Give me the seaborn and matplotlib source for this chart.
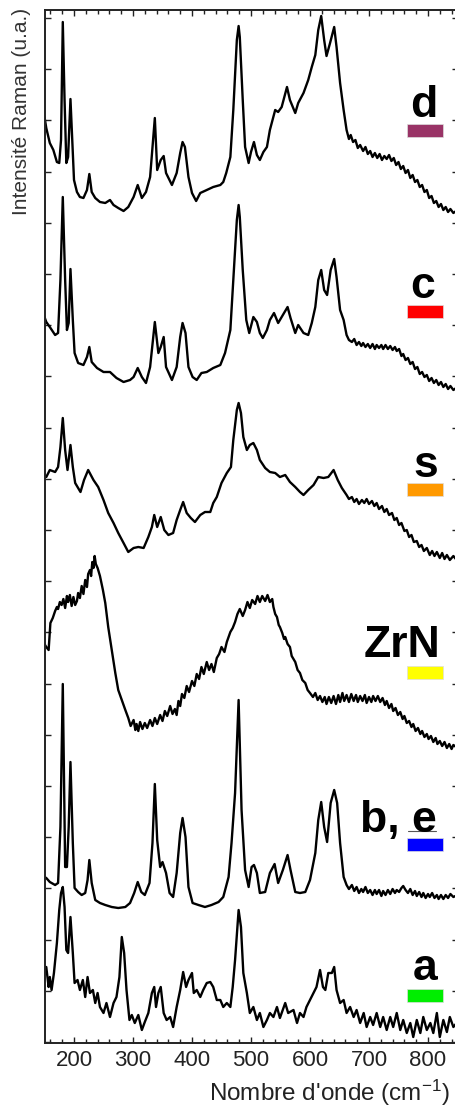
import numpy as np
import pandas as pd
import matplotlib
matplotlib.use("Agg")
import matplotlib.pyplot as plt
from matplotlib.ticker import MultipleLocator, FixedLocator
from matplotlib.patches import Rectangle
from matplotlib.lines import Line2D
import seaborn as sns

# ---------------- data (wavenumber cm-1, intensity a.u.) ----------------
d_wn = [150, 153, 159, 165, 171, 175, 178, 181, 184, 187, 190, 194, 197, 200, 205, 210, 216, 222, 226, 230, 236,
        244, 253, 261, 267, 275, 284, 292, 301, 308, 315, 322, 329, 337, 341, 347, 352, 356, 366, 374, 380, 384,
        388, 394, 400, 407, 414, 425, 436, 448, 453, 458, 465, 470, 476, 479, 481, 486, 490, 496, 500, 505, 510,
        515, 521, 527, 532, 541, 546, 552, 561, 566, 575, 580, 589, 597, 603, 609, 614, 619, 624, 628, 634, 641,
        645, 651, 657,
        662, 666, 669, 673, 677, 681, 685, 690, 694, 698, 702, 706, 710, 714, 718, 722, 726, 730, 734, 738, 742,
        746, 750, 754, 758, 762, 766, 770, 774, 778, 782, 786, 790, 794, 798, 802, 806, 810, 814, 818, 822, 826,
        830, 834, 838, 843, 850]
d_int = [925, 914, 899, 892, 880, 879, 902, 1020, 942, 879, 885, 943, 902, 862, 850, 845, 844, 852, 868, 850, 844,
         840, 839, 842, 837, 834, 831, 835, 845, 857, 844, 850, 865, 924, 872, 882, 886, 869, 857, 869, 889, 900,
         895, 865, 849, 841, 849, 852, 855, 857, 860, 869, 885, 932, 1002, 1016, 1005, 942, 895, 879, 890, 900, 887,
         882, 890, 895, 912, 932, 930, 935, 955, 942, 929, 939, 949, 962, 975, 987, 1012, 1026, 1002, 986, 999, 1015,
         995, 959, 932,
         912, 903, 907, 900, 902, 894, 897, 891, 895, 888, 891, 885, 889, 884, 888, 882, 886, 883, 887, 881, 884,
         877, 880, 873, 876, 869, 872, 864, 867, 860, 862, 855, 857, 850, 852, 844, 846, 839, 841, 835, 838, 832,
         835, 830, 833, 829, 832]

c_wn = [150, 153, 159, 168, 173, 177, 181, 185, 188, 191, 194, 198, 201, 207, 216, 222, 226, 230, 239, 250, 261,
        272, 284, 295, 301, 308, 315, 322, 329, 337, 343, 347, 352, 356, 366, 374, 380, 384, 389, 394, 401, 408,
        416, 425, 436, 448, 456, 465, 470, 476, 479, 481, 486, 492, 497, 504, 510, 515, 520, 527, 532, 539, 546,
        554, 562, 567, 575, 580, 589, 597, 603, 609, 614, 619, 624, 629, 635, 641, 645, 651, 657,
        662, 666, 671, 675, 679, 683, 687, 690, 694, 698, 702, 706, 710, 713, 717, 721, 724, 728, 732, 736, 740,
        744, 747, 751, 755, 758, 762, 766, 770, 774, 778, 782, 786, 790, 794, 798, 802, 806, 810, 814, 818, 822,
        826, 830, 834, 838, 843, 850]
c_int = [725, 720, 715, 707, 709, 762, 845, 762, 712, 719, 773, 722, 689, 679, 677, 685, 695, 680, 674, 670, 670,
         664, 660, 662, 665, 674, 665, 659, 675, 720, 689, 695, 705, 675, 662, 675, 705, 719, 709, 675, 665, 662,
         669, 670, 674, 677, 689, 712, 762, 822, 837, 825, 772, 722, 709, 725, 720, 709, 704, 712, 722, 729, 719,
         727, 735, 724, 709, 717, 709, 707, 719, 735, 762, 772, 752, 747, 772, 783, 765, 732, 722,
         707, 702, 700, 703, 697, 700, 696, 699, 695, 698, 694, 698, 693, 697, 694, 697, 693, 697, 693, 696, 692,
         695, 691, 693, 686, 688, 682, 684, 678, 680, 673, 675, 668, 670, 665, 667, 661, 664, 659, 662, 657, 660,
         655, 658, 653, 656, 652, 655]

s_wn = [150, 153, 159, 168, 173, 177, 181, 185, 189, 194, 198, 202, 207, 211, 217, 224, 233, 241, 250, 258, 267,
        275, 284, 292, 301, 309, 318, 326, 332, 336, 341, 347, 353, 360, 368, 374, 380, 385, 391, 398, 405, 414,
        422, 431, 436, 442, 450, 459, 466, 470, 476, 479, 483, 487, 493, 498, 504, 510, 515, 524, 532, 541, 549,
        558, 566, 575, 583, 589, 597, 606, 614, 623, 631, 640, 647, 654,
        662, 666, 671, 675, 679, 683, 688, 692, 696, 700, 705, 709, 713, 717, 722, 726, 730, 734, 739, 743, 747,
        751, 755, 760, 764, 768, 772, 776, 781, 785, 789, 793, 798, 803, 807, 811, 815, 820, 824, 828, 832, 837,
        843, 850]
s_int = [566, 565, 572, 570, 575, 595, 624, 592, 572, 597, 575, 559, 554, 550, 562, 572, 562, 555, 542, 529, 519,
         509, 499, 490, 494, 495, 494, 505, 515, 527, 515, 525, 512, 507, 509, 522, 532, 540, 529, 524, 520, 527,
         530, 530, 539, 545, 559, 569, 575, 602, 632, 639, 629, 605, 592, 597, 599, 592, 582, 574, 570, 569, 565,
         567, 560, 555, 550, 547, 552, 557, 565, 564, 565, 572, 562, 554,
         547, 543, 545, 540, 543, 538, 542, 539, 543, 538, 541, 536, 539, 533, 536, 530, 533, 527, 529, 522, 524,
         517, 519, 511, 512, 505, 507, 500, 501, 495, 497, 491, 494, 487, 491, 486, 490, 484, 489, 483, 487, 482,
         486, 481]

zrn_wn = [150, 153, 157, 160, 164, 168, 171, 173, 176, 179, 182, 185, 188, 190, 193, 196, 199, 202, 205, 207, 210,
          213, 216, 219, 222, 224, 227, 229, 231, 233, 235, 237, 240, 244, 249, 253, 258, 264, 270, 275, 281, 287,
          292, 296, 301, 304, 306, 309, 312, 316, 320, 324, 329, 333, 337, 341, 346, 350, 354, 358, 363, 367, 371,
          374, 377, 380, 383, 387, 391, 395, 400, 404, 408, 412, 416, 420, 425, 429, 433, 437, 442, 446, 450, 455,
          459, 462, 465, 469, 473, 477, 481, 486, 490, 494, 498, 502, 507, 511, 515, 519, 524, 528, 532, 536,
          538, 541, 544, 547, 549, 553, 556, 558, 562, 566, 569, 572, 575, 579, 583, 587, 592, 596,
          600, 605, 609, 613, 617, 621, 625, 628, 632, 636, 640, 644, 648, 651, 655, 658, 662, 666, 670, 674, 678,
          681, 685, 689, 693, 696, 700, 704, 707, 711, 715, 719, 723, 727, 730, 734, 738, 741, 745, 749, 753, 757,
          760, 764, 768, 772, 775, 779, 783, 787, 790, 794, 798, 801, 805, 809, 813, 816, 820, 824, 828, 832, 836,
          840, 843, 850]
zrn_int = [398, 395, 392, 419, 424, 431, 435, 433, 440, 437, 443, 434, 446, 440, 447, 436, 445, 437, 441, 449, 444,
           456, 448, 462, 455, 468, 472, 466, 480, 474, 486, 478, 474, 466, 452, 439, 415, 392, 369, 352, 342, 332,
           324, 316, 322, 312, 318, 311, 320, 313, 319, 314, 322, 316, 324, 318, 327, 321, 331, 326, 336, 328, 333,
           327, 341, 336, 348, 344, 356, 350, 361, 356, 368, 363, 375, 368, 380, 372, 378, 370, 384, 388, 395, 390,
           400, 405, 410, 414, 420, 428, 433, 426, 432, 440, 434, 442, 438, 446, 440, 446, 441, 447, 440, 443,
           435, 428, 425, 417, 415, 409, 403, 405, 398, 395, 386, 383, 380, 372, 369, 362, 359, 352,
           349, 345, 349, 342, 346, 340, 345, 338, 345, 339, 346, 338, 347, 340, 349, 341, 347, 340, 348, 341, 347,
           340, 346, 341, 347, 339, 345, 340, 346, 341, 346, 340, 344, 337, 341, 334, 338, 331, 334, 327, 330, 323,
           326, 319, 321, 315, 318, 311, 314, 308, 311, 305, 308, 303, 306, 300, 304, 298, 301, 296, 300, 294, 298,
           293, 297, 294]

be_wn = [150, 153, 159, 168, 173, 177, 181, 185, 188, 191, 194, 198, 201, 207, 213, 219, 223, 226, 230, 236, 244,
         253, 264, 275, 287, 295, 302, 308, 314, 320, 328, 333, 337, 341, 346, 350, 356, 362, 368, 374, 380, 384,
         389, 394, 401, 411, 422, 433, 445, 453, 462, 467, 473, 479, 484, 490, 496, 501, 505, 510, 515, 524, 532,
         540, 546, 554, 562, 567, 575, 583, 592, 600, 609, 614, 619, 624, 629, 635, 641, 646, 651, 657,
         662, 666, 671, 675, 679, 683, 687, 690, 694, 698, 702, 706, 710, 713, 717, 721, 724, 728, 732, 736, 740,
         744, 747, 751, 755, 758, 762, 766, 770, 774, 778, 781, 785, 789, 792, 796, 800, 803, 807, 811, 815, 818,
         822, 826, 830, 834, 838, 843, 850]
be_int = [165, 164, 160, 157, 159, 215, 358, 175, 175, 215, 280, 199, 154, 150, 147, 149, 162, 182, 159, 142, 139,
          137, 135, 134, 135, 139, 149, 160, 150, 147, 159, 199, 258, 202, 175, 180, 169, 149, 145, 169, 209, 224,
          205, 155, 139, 137, 135, 137, 140, 145, 165, 199, 249, 342, 232, 172, 155, 175, 177, 169, 149, 150, 169,
          178, 159, 172, 187, 172, 150, 149, 150, 162, 189, 222, 240, 215, 200, 239, 252, 239, 199, 165,
          157, 153, 157, 151, 155, 149, 153, 150, 155, 149, 152, 147, 152, 148, 152, 146, 151, 147, 152, 148, 153,
          149, 152, 150, 154, 156, 152, 149, 153, 147, 151, 146, 150, 145, 149, 144, 148, 145, 149, 144, 147, 143,
          147, 143, 147, 144, 148, 145, 147]

a_wn = [150, 153, 157, 159, 162, 166, 171, 175, 178, 181, 184, 187, 190, 194, 198, 201, 206, 210, 215, 219, 223,
        227, 232, 236, 240, 244, 250, 255, 261, 267, 272, 277, 281, 285, 289, 294, 298, 303, 309, 315, 320, 326,
        332, 336, 339, 343, 347, 352, 357, 363, 368, 374, 380, 385, 390, 394, 400, 403, 408, 414, 419, 425, 431,
        436, 442, 448, 453, 459, 465, 469, 473, 479, 483, 487, 493, 498, 504, 510, 515, 521, 527, 532, 538, 544,
        549, 558, 563, 572, 578, 583, 589, 594, 600, 606, 611, 617, 622, 626, 631, 637, 641, 645, 651, 657, 662,
        668, 674, 679, 685, 691, 696, 702, 707, 713, 719, 724, 730, 736, 741, 747, 753, 758, 764, 770, 775, 781,
        787, 792, 798, 804, 809, 815, 820, 826, 832, 837, 843, 850]
a_int = [70, 75, 55, 65, 52, 69, 99, 132, 149, 155, 135, 92, 89, 125, 89, 59, 62, 52, 62, 45, 65,
         49, 52, 39, 49, 35, 29, 39, 25, 39, 45, 65, 105, 89, 52, 22, 27, 19, 27, 12, 20, 29,
         49, 55, 35, 49, 55, 29, 22, 25, 15, 35, 52, 70, 55, 62, 69, 49, 52, 45, 52, 59, 60,
         55, 42, 42, 35, 39, 35, 55, 82, 132, 115, 69, 49, 29, 35, 22, 29, 15, 22, 29, 25, 35,
         24, 39, 29, 32, 19, 29, 25, 35, 42, 49, 55, 72, 55, 52, 69, 69, 75, 52, 39, 42, 29,
         35, 25, 32, 19, 29, 15, 25, 17, 29, 15, 25, 12, 25, 15, 29, 12, 22, 9, 19, 5, 22,
         9, 25, 12, 19, 9, 29, 5, 22, 10, 25, 15, 20]

spectra = [("d", d_wn, d_int), ("c", c_wn, c_int), ("s", s_wn, s_int),
           ("ZrN", zrn_wn, zrn_int), ("b, e", be_wn, be_int), ("a", a_wn, a_int)]

labels = ["d", "c", "s", "ZrN", "b, e", "a"]
label_colors = ["#993366", "#FF0000", "#FF9900", "#FFFF00", "#0000FF", "#00EE00"]
x_ticks = [200, 300, 400, 500, 600, 700, 800]

# ---------------- style ----------------
sns.set_style("ticks")
plt.rcParams["font.family"] = ["Liberation Sans", "DejaVu Sans"]
plt.rcParams["mathtext.fontset"] = "custom"
plt.rcParams["mathtext.rm"] = "Liberation Sans"
plt.rcParams["mathtext.it"] = "Liberation Sans:italic"

W, H = 455, 1106
fig = plt.figure(figsize=(W / 100, H / 100), dpi=100)
ax = fig.add_axes([44.5 / W, (H - 1043) / H, 413 / W, 1033 / H])

frames = []
for name, wn, it in spectra:
    frames.append(pd.DataFrame({"wn": wn, "I": it, "spec": name}))
df = pd.concat(frames, ignore_index=True)

for name, _, _ in spectra:
    sub = df[df["spec"] == name]
    sns.lineplot(data=sub, x="wn", y="I", ax=ax, color="black", linewidth=1.7,
                 estimator=None, sort=True, legend=False)

ax.set_xlim(150, 850)
ax.set_ylim(-1, 1032)
ax.set_xticks(x_ticks)
ax.xaxis.set_minor_locator(MultipleLocator(20))
ax.yaxis.set_major_locator(FixedLocator(np.arange(0, 1032, 51.2)))
ax.set_yticklabels([])
ax.set_xlabel("")
ax.set_ylabel("")
ax.tick_params(axis="both", which="both", direction="in", top=True, right=True, width=1.0, color="#222222")
ax.tick_params(axis="x", which="major", length=4, labelsize=16, pad=5, labelcolor="#222222")
ax.tick_params(axis="x", which="minor", length=3)
ax.tick_params(axis="y", which="major", length=4)
for sp in ax.spines.values():
    sp.set_linewidth(1.4)
    sp.set_color("#222222")

# axis titles
fig.text(450 / W, 1 - 1093 / H, r"Nombre d'onde (cm$^{-1}$)", ha="right", va="center",
         fontsize=17.5, color="#222222")
fig.text(22 / W, 1 - 8 / H, "Intensité Raman (u.a.)", rotation=90, ha="center", va="top",
         fontsize=15, color="#333333")

# sample labels and colour bars
lab_pos = [(437, 117, 124), (435, 298, 305), (438, 477, 483), (440, 657, 666), (437, 832, 838), (437, 980, 989)]
for lab, col, (xr, yb, ybar) in zip(labels, label_colors, lab_pos):
    fig.text(xr / W, 1 - yb / H, lab, ha="right", va="baseline", fontsize=32,
             fontweight="bold", color="black")
    fig.patches.append(Rectangle((407 / W, 1 - (ybar + 13) / H), 36 / W, 13 / H,
                                 transform=fig.transFigure, facecolor=col,
                                 edgecolor="#dddddd", linewidth=0.5))
fig.lines.append(Line2D([408 / W, 436 / W], [1 - 831 / H, 1 - 831 / H], transform=fig.transFigure,
                        color="#555555", linewidth=0.8))

fig.savefig("out.png", dpi=100)
